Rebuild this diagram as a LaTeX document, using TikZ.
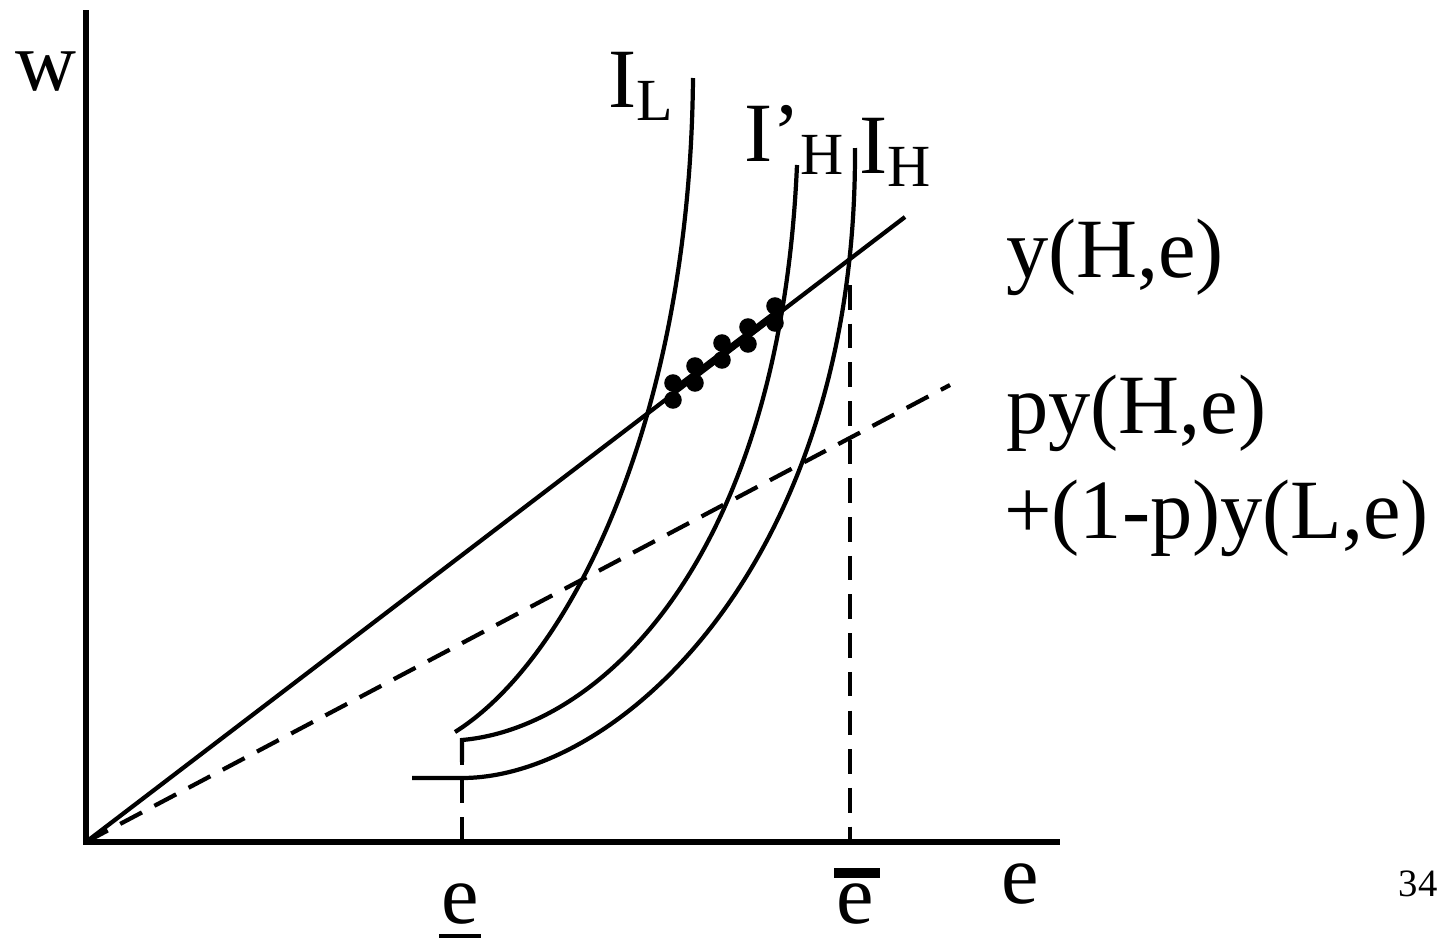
\documentclass[tikz,border=0pt]{standalone}
\usepackage{fontspec}
\setmainfont{Liberation Serif}
\usetikzlibrary{positioning}

\begin{document}
\begin{tikzpicture}[x=0.01cm,y=-0.01cm,line width=1.2pt,
  lbl/.style={font=\fontsize{24}{28}\selectfont,inner sep=0pt},
  dsh/.style={dash pattern=on 7pt off 4pt},
  blob/.style={fill,circle,inner sep=0pt,minimum size=5pt}]
\useasboundingbox (0,0) rectangle (1447,942);
% axes
\coordinate (O) at (86,842); \coordinate (wtop) at (86,10); \coordinate (eend) at (1060,842);
\draw[line width=1.5pt] (wtop) -- (O) -- (eend);
\node[lbl] (w) at (46,72) {w}; \node[lbl] (e) at (1020,884) {e};
\node[font=\fontsize{11}{13}\selectfont,inner sep=0pt] (pg) at (1418,884) {34};
% output lines
\coordinate (yHe) at (905,217); \coordinate (pyHe) at (950,385);
\draw (O) -- (yHe); \draw[dsh] (O) -- (pyHe);
\node[lbl,anchor=base west] (lyHe) at (1004,277) {y(H,e)};
\node[lbl,anchor=base west] (lpy) at (1004,433) {py(H,e)};
\node[lbl,anchor=base west] (lpy2) at (1002,538) {+(1-p)y(L,e)};
% indifference curves
\draw (455,732) .. controls (570,660) and (690,420) .. (693,78);
\draw (462,762) -- (462,740) .. controls (600,728) and (780,560) .. (797,165);
\draw (412,778) -- (462,778) .. controls (620,778) and (857,560) .. (855,148);
\node[lbl] (IL) at (642,86) {I\textsubscript{\fontsize{17}{19}\selectfont L}};
\node[lbl] (IHp) at (795,140) {I'\textsubscript{\fontsize{17}{19}\selectfont H}};
\node[lbl] (IH) at (896,152) {I\textsubscript{\fontsize{17}{19}\selectfont H}};
% cut-offs
\draw[dsh] (462,740) -- (462,842); \draw[dsh] (850,285) -- (850,842);
\node[lbl,anchor=base] (elow) at (460,923) {e}; \node[lbl,anchor=base] (ebar) at (855,923) {e};
\draw[line width=1.2pt] ([yshift=-3.8pt]elow.base west) -- ([yshift=-3.8pt]elow.base east);
\draw[line width=2.8pt] ([yshift=2.2pt]ebar.north west) -- ([xshift=1.2pt,yshift=2.2pt]ebar.north east);
% separating contracts
\draw[line width=2pt] (672,392) -- (778,312);
\foreach \x/\y in {673/383,695/366,722/343,748/327,775/306}
  {\node[blob] at (\x,\y) {}; \node[blob] at (\x,\y+17) {};}
\end{tikzpicture}
\end{document}
